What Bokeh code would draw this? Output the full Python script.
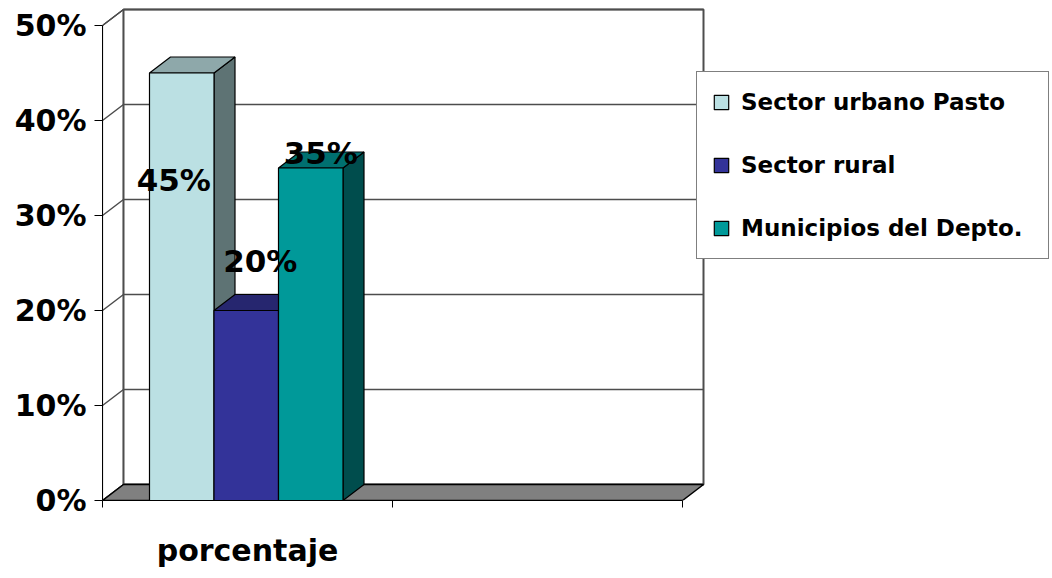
from bokeh.plotting import figure
from bokeh.models import Range1d, FixedTicker, PrintfTickFormatter, Legend, LegendItem
from bokeh.core.properties import value
from bokeh.embed import file_html
from bokeh.resources import INLINE

# ---------------- data ----------------
categories = ["porcentaje", ""]
series = ["Sector urbano Pasto", "Sector rural", "Municipios del Depto."]
values = [45, 20, 35]
value_labels = ["45%", "20%", "35%"]
y_ticks = [0, 10, 20, 30, 40, 50]

# ---------------- styling ----------------
front_colors = ["#BBE0E3", "#333399", "#009999"]
top_colors = ["#8EA8AA", "#26266F", "#007070"]
side_colors = ["#5E7374", "#202060", "#004D4D"]
FONT = "DejaVu Sans"

W, H = 1050, 576
BORDER_L, BORDER_B = 102, 76
PX_X = 290.0          # pixels per category slot
PX_Y = 9.5            # pixels per percent
DX = 21 / PX_X        # depth offset (x, data units)
DY = 16 / PX_Y        # depth offset (y, data units)
BAR_W = 64.5 / PX_X
GROUP_LEFT = 47 / PX_X
n_slots = len(categories)
y_max = max(y_ticks)

x_end = (W - BORDER_L) / PX_X
y_end = (H - BORDER_B) / PX_Y

p = figure(width=W, height=H, x_range=Range1d(0, x_end), y_range=Range1d(0, y_end),
           output_backend="svg", toolbar_location=None,
           min_border_left=BORDER_L, min_border_bottom=BORDER_B,
           min_border_top=0, min_border_right=0)
p.grid.visible = False
p.outline_line_color = None
p.background_fill_color = "white"

# ---------------- walls ----------------
p.patch([0, 0, DX, DX], [0, y_max, y_max + DY, DY], fill_color="white",
        line_color="#333333", line_width=1.2)
p.patch([DX, DX, n_slots + DX, n_slots + DX], [DY, y_max + DY, y_max + DY, DY],
        fill_color="white", line_color="#4D4D4D", line_width=2)
gx, gy = [], []
for t in y_ticks:
    gx.append([0, DX, n_slots + DX])
    gy.append([t, t + DY, t + DY])
p.multi_line(gx, gy, line_color="#4D4D4D", line_width=1.5)
p.patch([0, n_slots, n_slots + DX, DX], [0, 0, DY, DY], fill_color="#808080",
        line_color="black", line_width=1.5)

# ---------------- bars ----------------
legend_items = []
for i, v in enumerate(values):
    x0 = GROUP_LEFT + i * BAR_W
    x1 = x0 + BAR_W
    p.patch([x1, x1, x1 + DX, x1 + DX], [0, v, v + DY, DY],
            fill_color=side_colors[i], line_color="black", line_width=1.2)
    p.patch([x0, x1, x1 + DX, x0 + DX], [v, v, v + DY, v + DY],
            fill_color=top_colors[i], line_color="black", line_width=1.2)
    r = p.quad(left=[x0], right=[x1], bottom=[0], top=[v],
               fill_color=front_colors[i], line_color="black", line_width=1.2)
    legend_items.append(LegendItem(label=series[i], renderers=[r]))

# data labels (offsets in pixels relative to the bar top centre)
label_dx_px = [-8, 14, 10]
label_up_px = [-107, 50, 15]
for i, v in enumerate(values):
    xc = GROUP_LEFT + (i + 0.5) * BAR_W + label_dx_px[i] / PX_X
    yc = v + label_up_px[i] / PX_Y
    p.text(x=[xc], y=[yc], text=[value_labels[i]], text_font=value(FONT),
           text_font_style="bold", text_font_size="31px", text_color="black",
           text_align="center", text_baseline="middle")

# ---------------- axes ----------------
ya = p.yaxis[0]
ya.ticker = FixedTicker(ticks=y_ticks)
ya.formatter = PrintfTickFormatter(format="%d%%")
ya.bounds = (0, y_max)
ya.major_tick_out = 8
ya.major_tick_in = 0
ya.minor_tick_out = 0
ya.minor_tick_in = 0
ya.major_label_standoff = 8
ya.major_label_text_font = FONT
ya.major_label_text_font_style = "bold"
ya.major_label_text_font_size = "30px"
ya.major_label_text_color = "black"
ya.axis_line_color = "black"
ya.major_tick_line_color = "black"

xa = p.xaxis[0]
cat_ticks = [i + 0.5 for i in range(n_slots)]
xa.ticker = FixedTicker(ticks=cat_ticks, minor_ticks=list(range(n_slots + 1)))
xa.major_label_overrides = {t: c for t, c in zip(cat_ticks, categories)}
xa.bounds = (0, n_slots)
xa.major_tick_out = 0
xa.major_tick_in = 0
xa.minor_tick_out = 7
xa.minor_tick_in = 0
xa.minor_tick_line_color = "black"
xa.major_label_standoff = 25
xa.major_label_text_font = FONT
xa.major_label_text_font_style = "bold"
xa.major_label_text_font_size = "30px"
xa.major_label_text_color = "black"
xa.axis_line_color = "black"

# ---------------- legend ----------------
legend = Legend(items=legend_items, location=(594, 241), orientation="vertical",
                label_text_font=FONT, label_text_font_style="bold",
                label_text_font_size="23px", label_text_color="black",
                glyph_width=18, glyph_height=18, label_height=30, label_width=292,
                spacing=33, padding=15, margin=0, label_standoff=11,
                border_line_color="black", border_line_width=1.5,
                background_fill_color="white", background_fill_alpha=1.0)
p.add_layout(legend)

open("out.html", "w").write(file_html(p, INLINE))
